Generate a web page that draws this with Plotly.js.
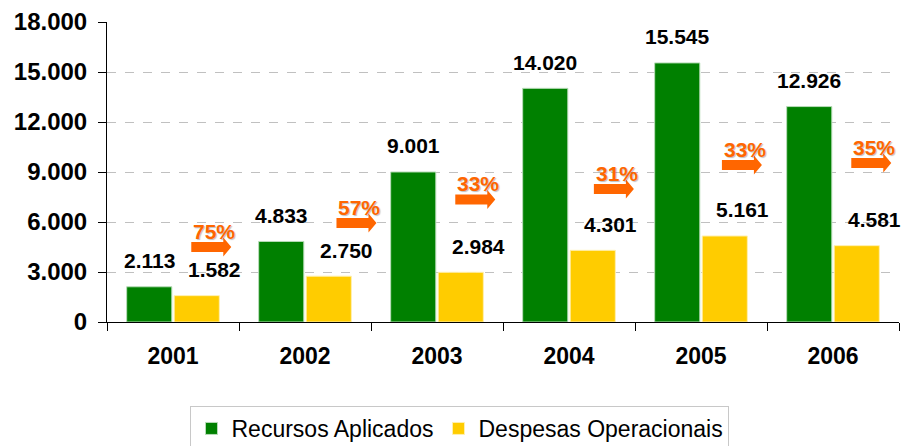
<!DOCTYPE html>
<html>
<head>
<meta charset="utf-8">
<script src="https://cdn.plot.ly/plotly-3.0.1.min.js"></script>
<style>html,body{margin:0;padding:0;background:#fff;}#chart{width:906px;height:446px;}</style>
</head>
<body>
<div id="chart"></div>
<script>
// ---- data ----
const years = ['2001', '2002', '2003', '2004', '2005', '2006'];
const recursos = [2113, 4833, 9001, 14020, 15545, 12926];
const despesas = [1582, 2750, 2984, 4301, 5161, 4581];
const percentLabels = ['75%', '57%', '33%', '31%', '33%', '35%'];
const seriesNames = ['Recursos Aplicados', 'Despesas Operacionais'];
const yTicks = [0, 3000, 6000, 9000, 12000, 15000, 18000];

// ---- arrow placement (decoration, layout only) ----
const arrowLevel = [4500, 5940, 7350, 7980, 9420, 9540];
const arrowDX = [0.29, 0.39, 0.29, 0.34, 0.31, 0.29];

const fmt = v => v.toLocaleString('de-DE');
const FONT = 'Liberation Sans, Arial, Helvetica, sans-serif';
const idx = years.map((_, i) => i);

const traces = [
  {type: 'bar', name: seriesNames[0], x: idx, y: recursos,
   marker: {color: '#008000', line: {color: '#b8dcb8', width: 1}}, hoverinfo: 'none'},
  {type: 'bar', name: seriesNames[1], x: idx, y: despesas,
   marker: {color: '#FFCC00', line: {color: '#fff0b0', width: 1}}, hoverinfo: 'none'}
];

const annotations = [];
const shapes = [];
idx.forEach(i => {
  annotations.push({x: i, y: recursos[i], xref: 'x', yref: 'y', text: fmt(recursos[i]),
    showarrow: false, xshift: -24, yshift: 26, yanchor: 'middle',
    font: {family: FONT, size: 21, color: '#000', weight: 'bold'}});
  annotations.push({x: i, y: despesas[i], xref: 'x', yref: 'y', text: fmt(despesas[i]),
    showarrow: false, xshift: 41, yshift: 26, yanchor: 'middle',
    font: {family: FONT, size: 21, color: '#000', weight: 'bold'}});
  annotations.push({x: i + arrowDX[i], y: arrowLevel[i], xref: 'x', yref: 'y', text: percentLabels[i],
    showarrow: false, xshift: 3, yshift: 16, yanchor: 'middle',
    font: {family: FONT, size: 21, color: '#FF6600', weight: 'bold', shadow: '1px 1px 1px rgba(0,0,0,0.25)'}});
  shapes.push({type: 'path', xref: 'x', yref: 'y', xsizemode: 'pixel', ysizemode: 'pixel',
    xanchor: i + arrowDX[i], yanchor: arrowLevel[i],
    path: 'M-20,-5 L12,-5 L12,-9.5 L20,0 L12,9.5 L12,5 L-20,5 Z',
    fillcolor: '#FF6600', line: {width: 0}, layer: 'above'});
});

const boundaries = [];
for (let b = -0.5; b <= years.length - 0.5; b += 1) boundaries.push(b);

const layout = {
  width: 906, height: 446,
  margin: {l: 107, r: 7, t: 22, b: 124, autoexpand: false},
  paper_bgcolor: '#fff', plot_bgcolor: '#fff',
  separators: ',.',
  barmode: 'group', bargap: 0.28, bargroupgap: 0.05,
  showlegend: true,
  legend: {orientation: 'h', x: 0.4457, xanchor: 'center', y: -0.28, yanchor: 'top',
    bordercolor: '#c8c8c8', borderwidth: 1, itemwidth: 30, tracegroupgap: 0,
    font: {family: FONT, size: 23, color: '#000'}},
  xaxis: {type: 'linear', range: [-0.5, years.length - 0.5], tickmode: 'array',
    tickvals: idx, ticktext: years, ticks: '',
    showline: true, linecolor: '#000', linewidth: 1, zeroline: false,
    showgrid: false, ticklabelstandoff: 13,
    minor: {tickmode: 'array', tickvals: boundaries, ticks: 'outside', ticklen: 8, tickcolor: '#000', showgrid: false},
    tickfont: {family: FONT, size: 23, color: '#000', weight: 'bold'}},
  yaxis: {range: [0, 18000], tickmode: 'array', tickvals: yTicks, ticktext: yTicks.map(fmt),
    showline: true, linecolor: '#000', linewidth: 1, zeroline: false,
    ticks: 'outside', ticklen: 8, tickcolor: '#000', ticklabelstandoff: 6,
    showgrid: true, gridcolor: '#c0c0c0', griddash: 'dash', gridwidth: 1,
    tickfont: {family: FONT, size: 24, color: '#000', weight: 'bold'}},
  annotations: annotations,
  shapes: shapes
};

Plotly.newPlot('chart', traces, layout, {displayModeBar: false, staticPlot: true});
</script>
</body>
</html>
